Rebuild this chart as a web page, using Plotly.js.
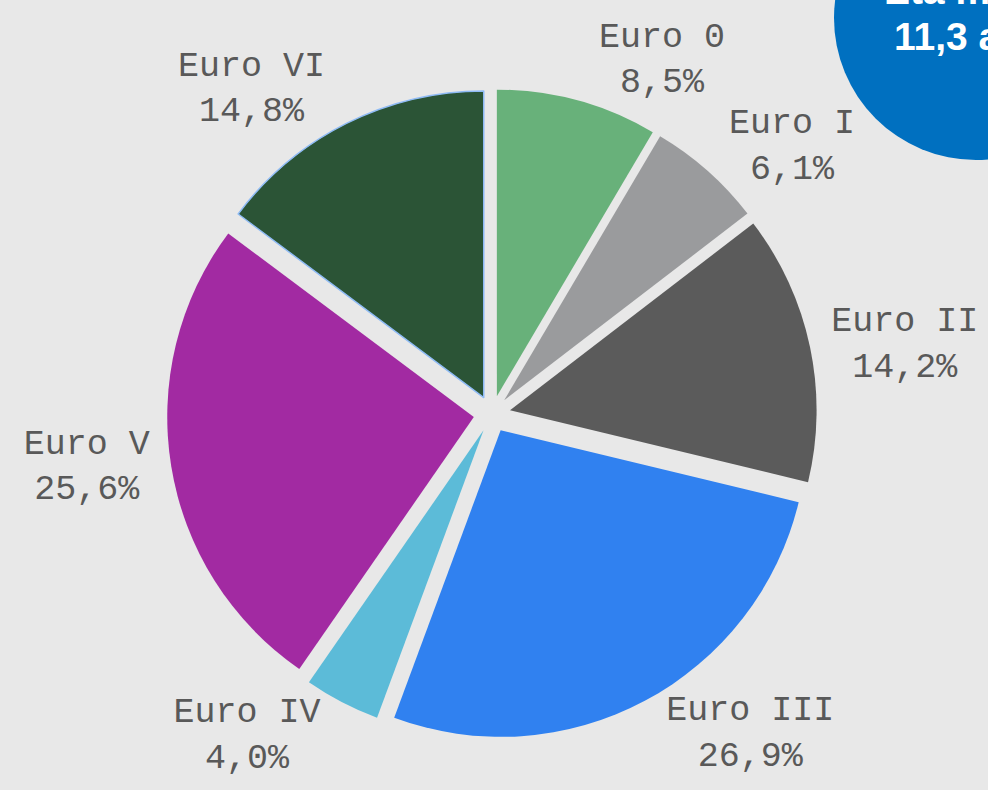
<!DOCTYPE html>
<html>
<head>
<meta charset="utf-8">
<script src="https://cdn.plot.ly/plotly-3.0.1.min.js"></script>
<style>html,body{margin:0;padding:0;background:#e8e8e8;}#chart{width:988px;height:790px;}</style>
</head>
<body>
<div id="chart"></div>
<script>
const categories = ["Euro 0", "Euro I", "Euro II", "Euro III", "Euro IV", "Euro V", "Euro VI"];
const shares = [8.5, 6.1, 14.2, 26.9, 4.0, 25.6, 14.8];
const sliceColors = ["#68b17a", "#9a9b9d", "#5b5b5b", "#3081f0", "#5cbbd8", "#a22aa2", "#2b5436"];
const badgeLines = ["Età media", "11,3 anni"];

const lineColors = categories.map(c => c === "Euro VI" ? "#8fbbf5" : "rgba(0,0,0,0)");
const lineWidths = categories.map(c => c === "Euro VI" ? 1.5 : 0);

const W = 988, H = 790;
const cx = 492, cy = 414, half = 325;

const trace = {
  type: "pie",
  labels: categories,
  values: shares,
  sort: false,
  direction: "clockwise",
  rotation: 0,
  pull: 0.06,
  marker: {colors: sliceColors, line: {color: lineColors, width: lineWidths}},
  textposition: "outside",
  texttemplate: "%{label}<br>%{value:.1f}%",
  textfont: {family: "'Courier New', 'Nimbus Mono PS', FreeMono, 'Liberation Mono', monospace", size: 35, color: "#595959"},
  hoverinfo: "label+value",
  showlegend: false,
  domain: {x: [(cx - half) / W, (cx + half) / W], y: [1 - (cy + half) / H, 1 - (cy - half) / H]}
};

const bx = 976, by = 18, br = 142;
const layout = {
  width: W, height: H,
  margin: {l: 0, r: 0, t: 0, b: 0},
  paper_bgcolor: "#e8e8e8",
  plot_bgcolor: "#e8e8e8",
  separators: ",.",
  showlegend: false,
  shapes: [{
    type: "circle", xref: "paper", yref: "paper", layer: "above",
    x0: (bx - br) / W, x1: (bx + br) / W, y0: 1 - (by + br) / H, y1: 1 - (by - br) / H,
    fillcolor: "#0070c0", line: {width: 0}
  }],
  annotations: [
    {text: "<b>" + badgeLines[0] + "</b>", xref: "paper", yref: "paper", x: bx / W, y: 1 + 9 / H, xanchor: "center", yanchor: "middle", showarrow: false, font: {family: "Arial, 'Liberation Sans', sans-serif", size: 39, color: "#ffffff"}},
    {text: "<b>" + badgeLines[1] + "</b>", xref: "paper", yref: "paper", x: bx / W, y: 1 - 36 / H, xanchor: "center", yanchor: "middle", showarrow: false, font: {family: "Arial, 'Liberation Sans', sans-serif", size: 39, color: "#ffffff"}}
  ]
};

Plotly.newPlot("chart", [trace], layout, {displayModeBar: false, staticPlot: true});
</script>
</body>
</html>
